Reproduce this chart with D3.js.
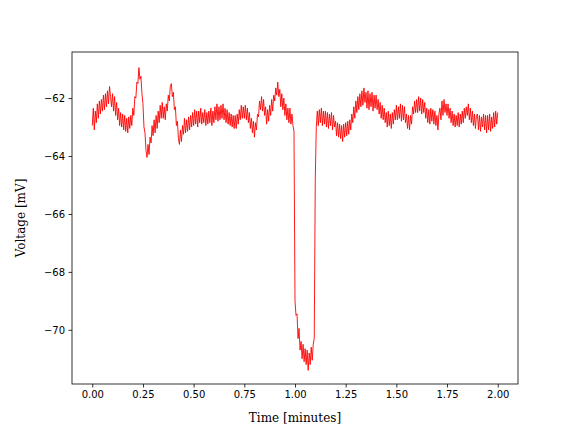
<!DOCTYPE html>
<meta charset="UTF-8">
<style>
  body { margin: 0; background: #fff; }
  .tick text { font-family: "DejaVu Sans", sans-serif; font-size: 10px; fill: #000; }
  .lbl { font-family: "DejaVu Serif", serif; font-size: 12px; fill: #000; }
</style>
<svg width="576" height="432"></svg>
<script src="https://d3js.org/d3.v7.min.js"></script>
<script>
// sampling of the recording (minutes)
var sampleStep = 0.005;

// membrane voltage, mV, one value per sample
var voltage = [
  -62.95, -62.35, -63.1, -62.45, -62.85, -62.2, -62.7, -62.1, -62.55, -62.05,
  -62.45, -61.9, -62.4, -61.85, -62.3, -61.75, -62.2, -61.6, -61.95, -62.3,
  -61.85, -62.45, -61.95, -62.6, -62.15, -62.75, -62.35, -62.95, -62.5, -63.0,
  -62.55, -63.1, -62.6, -63.15, -62.7, -63.2, -62.65, -63.05, -62.6, -62.95,
  -62.35, -62.6, -61.95, -62.0, -61.45, -61.5, -60.95, -61.35, -61.25, -61.85,
  -62.2, -63.0, -63.2, -63.8, -64.05, -63.6, -63.95, -63.35, -63.55, -62.95,
  -63.3, -62.75, -63.2, -62.6, -63.05, -62.45, -62.85, -62.25, -62.7, -62.15,
  -62.7, -62.3, -62.75, -62.2, -62.45, -61.9, -62.1, -61.6, -61.5, -61.95,
  -61.8, -62.4, -62.3, -62.95, -62.8, -63.4, -63.6, -63.1, -63.5, -62.95,
  -63.25, -62.7, -63.2, -62.75, -63.15, -62.65, -63.1, -62.6, -63.0, -62.5,
  -62.95, -62.4, -62.9, -62.45, -63.0, -62.45, -62.85, -62.35, -62.9, -62.5,
  -62.85, -62.4, -62.95, -62.5, -62.9, -62.45, -62.85, -62.35, -62.95, -62.45,
  -62.85, -62.3, -62.75, -62.2, -62.8, -62.3, -62.75, -62.25, -62.7, -62.2,
  -62.75, -62.35, -62.85, -62.4, -62.9, -62.5, -62.95, -62.55, -63.0, -62.6,
  -63.05, -62.6, -63.05, -62.55, -62.9, -62.4, -62.75, -62.25, -62.7, -62.3,
  -62.7, -62.25, -62.75, -62.35, -62.85, -62.5, -63.05, -62.7, -63.2, -62.8,
  -63.35, -62.85, -63.1, -62.55, -62.65, -62.1, -62.4, -61.95, -62.45, -62.05,
  -62.6, -62.3, -62.9, -62.4, -62.8, -62.25, -62.6, -62.05, -62.45, -61.9,
  -62.1, -61.65, -61.9, -61.45, -61.95, -61.7, -62.3, -61.85, -62.4, -62.0,
  -62.6, -62.2, -62.75, -62.35, -62.85, -62.35, -62.9, -62.55, -62.95, -63.15,
  -69.0, -69.5, -69.45, -70.3, -69.95, -70.7, -70.4, -71.0, -70.5, -71.1,
  -70.65, -71.2, -70.7, -71.4, -70.8, -71.2, -70.6, -71.05, -70.5, -70.3,
  -64.8, -63.0, -62.45, -62.95, -62.4, -62.85, -62.35, -62.95, -62.45, -62.9,
  -62.45, -63.0, -62.5, -63.05, -62.55, -62.95, -62.5, -63.1, -62.6, -63.0,
  -62.8, -63.3, -62.85, -63.35, -62.9, -63.4, -62.95, -63.5, -62.9, -63.35,
  -62.85, -63.3, -62.8, -63.25, -62.75, -63.1, -62.55, -62.85, -62.3, -62.7,
  -62.1, -62.5, -61.95, -62.4, -61.85, -62.3, -61.75, -62.25, -61.65, -62.15,
  -61.8, -62.35, -61.75, -62.4, -61.85, -62.3, -61.8, -62.45, -61.9, -62.35,
  -61.9, -62.4, -62.05, -62.55, -62.15, -62.7, -62.25, -62.75, -62.35, -62.85,
  -62.5, -63.0, -62.45, -62.95, -62.55, -63.05, -62.5, -62.9, -62.4, -62.75,
  -62.25, -62.75, -62.3, -62.7, -62.2, -62.8, -62.25, -62.75, -62.3, -62.85,
  -62.55, -63.05, -62.6, -63.1, -62.6, -62.9, -62.3, -62.55, -62.1, -62.5,
  -62.05, -62.5, -61.95, -62.45, -62.0, -62.55, -62.05, -62.5, -62.15, -62.7,
  -62.35, -62.85, -62.4, -62.9, -62.35, -62.8, -62.4, -62.9, -62.45, -62.95,
  -62.6, -63.1, -62.55, -62.35, -62.75, -62.1, -62.6, -62.05, -62.5, -62.2,
  -62.6, -62.2, -62.7, -62.35, -62.85, -62.45, -62.95, -62.55, -63.0, -62.6,
  -62.95, -62.5, -63.0, -62.55, -62.9, -62.45, -62.85, -62.35, -62.7, -62.3,
  -62.6, -62.2, -62.75, -62.35, -62.85, -62.45, -62.95, -62.55, -63.05, -62.6,
  -62.55, -63.1, -62.6, -63.15, -62.65, -63.0, -62.55, -63.1, -62.6, -63.2,
  -62.6, -63.1, -62.55, -63.15, -62.65, -63.05, -62.5, -63.0, -62.45, -62.9,
  -62.5
];

var xTicks = [0, 0.25, 0.5, 0.75, 1.0, 1.25, 1.5, 1.75, 2.0];
var yTicks = [-70, -68, -66, -64, -62];

var svg = d3.select("svg"),
    margin = {top: 52, right: 58, bottom: 48, left: 72},
    width = +svg.attr("width") - margin.left - margin.right,
    height = +svg.attr("height") - margin.top - margin.bottom,
    g = svg.append("g").attr("transform", "translate(" + margin.left + "," + margin.top + ")");

var data = voltage.map(function(v, i) { return {t: i * sampleStep, v: v}; });

var x = d3.scaleLinear().domain([-0.1, 2.1]).range([0, width]);
var y = d3.scaleLinear().domain([-71.87, -60.41]).range([height, 0]);

var line = d3.line()
    .x(function(d) { return x(d.t); })
    .y(function(d) { return y(d.v); });

g.append("path")
    .datum(data)
    .attr("fill", "none")
    .attr("stroke", "red")
    .attr("stroke-width", 0.9)
    .attr("stroke-linejoin", "round")
    .attr("d", line);

var xAxis = g.append("g")
    .attr("transform", "translate(0," + height + ")")
    .call(d3.axisBottom(x).tickValues(xTicks).tickFormat(d3.format(".2f")).tickSizeOuter(0).tickSize(3.5).tickPadding(3.5));

var yAxis = g.append("g")
    .call(d3.axisLeft(y).tickValues(yTicks).tickFormat(function(d) { return "\u2212" + Math.abs(d); }).tickSizeOuter(0).tickSize(3.5).tickPadding(3.5));

[xAxis, yAxis].forEach(function(a) {
    a.select(".domain").remove();
    a.selectAll(".tick line").attr("stroke", "#000").attr("stroke-width", 0.8);
});

// frame
g.append("rect")
    .attr("width", width)
    .attr("height", height)
    .attr("fill", "none")
    .attr("stroke", "#000")
    .attr("stroke-width", 0.8);

svg.append("text")
    .attr("class", "lbl")
    .attr("x", margin.left + width / 2)
    .attr("y", 422)
    .attr("text-anchor", "middle")
    .text("Time [minutes]");

svg.append("text")
    .attr("class", "lbl")
    .attr("transform", "translate(25," + (margin.top + height / 2) + ") rotate(-90)")
    .attr("text-anchor", "middle")
    .text("Voltage [mV]");
</script>
